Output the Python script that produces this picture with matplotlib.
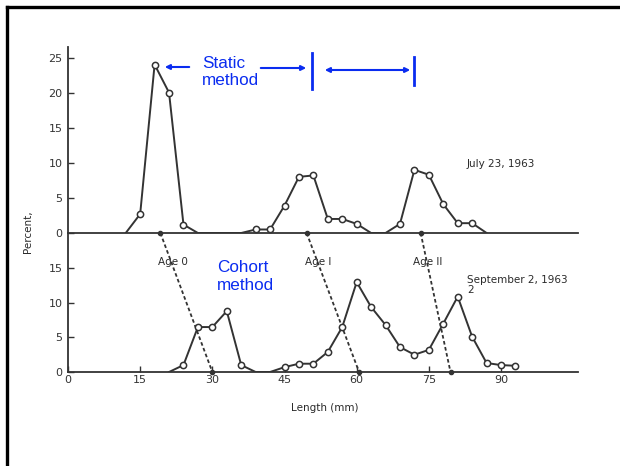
import matplotlib
matplotlib.use("Agg")
import matplotlib.pyplot as plt
import numpy as np
from matplotlib.lines import Line2D
from matplotlib.patches import FancyArrowPatch

# ---- data ----
len_july = [12, 15, 18, 21, 24, 27, 36, 39, 42, 45, 48, 51, 54, 57, 60, 63, 66, 69, 72, 75, 78, 81, 84, 87]
pct_july = [0, 2.7, 24.0, 20.0, 1.2, 0, 0, 0.5, 0.5, 3.9, 8.0, 8.2, 2.0, 2.0, 1.3, 0, 0, 1.3, 9.0, 8.3, 4.1, 1.4, 1.4, 0]

len_sept = [21, 24, 27, 30, 33, 36, 39, 42, 45, 48, 51, 54, 57, 60, 63, 66, 69, 72, 75, 78, 81, 84, 87, 90, 93]
pct_sept = [0, 1.0, 6.5, 6.5, 8.8, 1.0, 0, 0, 0.7, 1.2, 1.2, 2.9, 6.5, 13.0, 9.4, 6.8, 3.6, 2.5, 3.2, 7.0, 10.9, 5.1, 1.3, 1.0, 0.9]

age_labels = ["Age 0", "Age I", "Age II"]
age_start_july = [19.2, 49.6, 73.3]
age_end_sept = [30.0, 60.5, 79.5]

x_ticks = [0, 15, 30, 45, 60, 75, 90]
y_ticks_top = [0, 5, 10, 15, 20, 25]
y_ticks_bot = [0, 5, 10, 15]

W, H = 620, 466
fig = plt.figure(figsize=(W / 100, H / 100), dpi=100)
fig.patch.set_facecolor("white")

def fx(x):
    return x / W

def fy(y):
    return 1 - y / H

ink = "#333333"
blue = "#0a2cf0"

# axes geometry (pixels)
x0, x1 = 68, 578
yb0, yb1 = 372, 233   # bottom panel: baseline, top
yt1 = 47              # top panel top

ax_b = fig.add_axes([fx(x0), fy(yb0), (x1 - x0) / W, (yb0 - yb1) / H])
ax_t = fig.add_axes([fx(x0), fy(yb1), (x1 - x0) / W, (yb1 - yt1) / H])

for ax in (ax_t, ax_b):
    ax.set_xlim(0, 106)
    ax.patch.set_alpha(0)
    for s in ("top", "right"):
        ax.spines[s].set_visible(False)
    for s in ("left", "bottom"):
        ax.spines[s].set_color(ink)
        ax.spines[s].set_linewidth(1.3)
    ax.tick_params(direction="in", length=4, width=1, colors=ink, labelsize=8, pad=4)

ax_t.set_ylim(0, 26.5)
ax_b.set_ylim(0, 20.1)

ax_t.set_yticks(y_ticks_top)
ax_t.set_xticks([])
ax_b.set_yticks(y_ticks_bot)
ax_b.set_xticks(x_ticks)
ax_b.tick_params(axis="x", pad=2)

def plot_series(ax, xs, ys):
    xs = np.asarray(xs)
    ys = np.asarray(ys)
    ax.plot(xs, ys, color=ink, lw=1.4, zorder=3)
    mask = ys > 0
    ax.plot(xs[mask], ys[mask], ls="none", marker="o", ms=4.5, mfc="white",
            mec=ink, mew=1.1, zorder=4)

plot_series(ax_t, len_july, pct_july)
plot_series(ax_b, len_sept, pct_sept)

# age cohort dashed lines (from top baseline to bottom baseline)
ytop = ax_b.get_ylim()[1]
for lab, xs, xe in zip(age_labels, age_start_july, age_end_sept):
    ax_b.plot([xs, xe], [ytop, 0], color=ink, lw=1.3, ls=(0, (2.0, 1.4)), clip_on=False, zorder=2)
    ax_b.plot([xs, xe], [ytop, 0], ls="none", marker="o", ms=3, color=ink, clip_on=False, zorder=5)

# printed texts
txt = dict(color="#2a2a2a", fontsize=7.5)
fig.text(fx(173), fy(262), "Age 0", ha="center", va="center", **txt)
fig.text(fx(318), fy(262), "Age I", ha="center", va="center", **txt)
fig.text(fx(428), fy(262), "Age II", ha="center", va="center", **txt)
fig.text(fx(467), fy(164), "July 23, 1963", ha="left", va="center", **txt)
fig.text(fx(467), fy(285), "September 2, 1963\n2", ha="left", va="center", linespacing=1.1, **txt)
fig.text(fx(325), fy(408), "Length (mm)", ha="center", va="center", **txt)
fig.text(fx(28), fy(232), "Percent,", ha="center", va="center", rotation=90, **txt)

# blue annotations
btxt = dict(color=blue, fontsize=12.3, family="Liberation Sans")
fig.text(fx(202), fy(72), "Static\nmethod", ha="left", va="center", linespacing=1.2, **btxt)
fig.text(fx(217), fy(276.5), "Cohort\nmethod", ha="left", va="center", linespacing=1.2, **btxt)

def arrow(p0, p1, style):
    a = FancyArrowPatch((fx(p0[0]), fy(p0[1])), (fx(p1[0]), fy(p1[1])),
                        transform=fig.transFigure, arrowstyle=style,
                        mutation_scale=7, color=blue, lw=1.5)
    fig.add_artist(a)

arrow((192, 67), (162, 67), "-|>")
arrow((258, 68), (309, 68), "-|>")
arrow((322, 70), (413, 70), "<|-|>")
fig.add_artist(Line2D([fx(312), fx(312)], [fy(53), fy(89)], color=blue, lw=2, transform=fig.transFigure))
fig.add_artist(Line2D([fx(414), fx(414)], [fy(57), fy(85)], color=blue, lw=2, transform=fig.transFigure))

# slide frame (top and left edges)
fig.add_artist(Line2D([fx(7), fx(620)], [fy(7), fy(7)], color="black", lw=2.4, transform=fig.transFigure))
fig.add_artist(Line2D([fx(7), fx(7)], [fy(7), fy(466)], color="black", lw=2.4, transform=fig.transFigure))

fig.savefig("out.png", dpi=100, facecolor="white")
